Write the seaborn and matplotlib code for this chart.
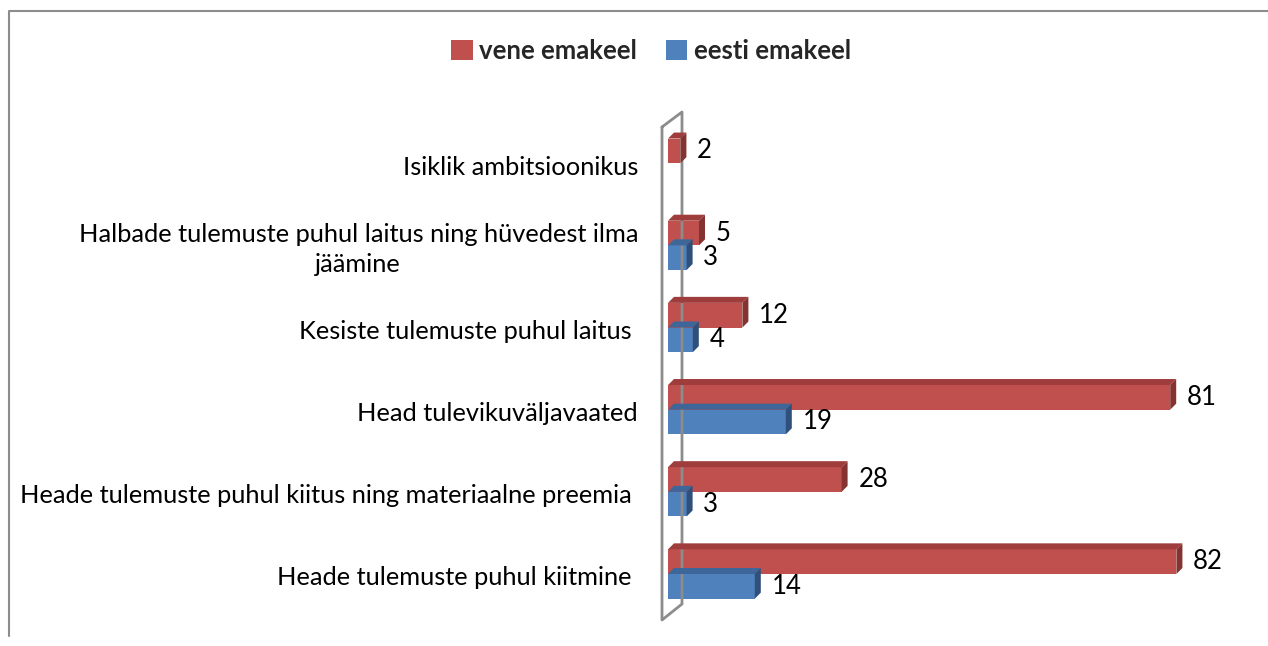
import matplotlib
matplotlib.use("Agg")
import matplotlib.pyplot as plt
import seaborn as sns
import pandas as pd
import numpy as np
from matplotlib.patches import Polygon, Patch
from matplotlib.lines import Line2D
from matplotlib.transforms import IdentityTransform, blended_transform_factory, offset_copy

# andmed
categories = [
    "Isiklik ambitsioonikus",
    "Halbade tulemuste puhul laitus ning hüvedest ilma\njäämine",
    "Kesiste tulemuste puhul laitus ",
    "Head tulevikuväljavaated",
    "Heade tulemuste puhul kiitus ning materiaalne preemia ",
    "Heade tulemuste puhul kiitmine ",
]
vene = [2, 5, 12, 81, 28, 82]
eesti = [np.nan, 3, 4, 19, 3, 14]
series = ["vene emakeel", "eesti emakeel"]

front = {"vene emakeel": "#C0504D", "eesti emakeel": "#4F81BD"}
top = {"vene emakeel": "#9E3D3B", "eesti emakeel": "#3E6699"}
side = {"vene emakeel": "#843331", "eesti emakeel": "#2F507A"}

df = pd.DataFrame({
    "kategooria": categories * 2,
    "grupp": [series[0]] * len(categories) + [series[1]] * len(categories),
    "väärtus": vene + eesti,
}).dropna()

sns.set_theme(style="white")
plt.rcParams["font.family"] = ["Lato", "DejaVu Sans"]

W, H = 1268, 646
fig = plt.figure(figsize=(W / 100, H / 100), dpi=100)


def px(x, y):
    return x / W, 1 - y / H


ax = fig.add_axes([668 / W, 1 - 620 / H, (1240 - 668) / W, 525 / H])
sns.barplot(data=df, y="kategooria", x="väärtus", hue="grupp", order=categories,
            hue_order=series, palette=front, width=0.6, orient="h", saturation=1,
            errorbar=None, legend=False, linewidth=0, ax=ax)
ax.set_xlim(0, 572 / 6.2)
ax.set_ylim(5.56, -0.83)
for s in ax.spines.values():
    s.set_visible(False)
ax.set_xticks([])
ax.set_xlabel("")
ax.set_ylabel("")
ax.tick_params(axis="y", length=0, labelleft=False)

# kategooriate nimed
lab_tr = offset_copy(blended_transform_factory(ax.transAxes, ax.transData),
                     fig=fig, x=-30, y=-4, units="dots")
for i, c in enumerate(categories):
    ax.text(0, i, c, transform=lab_tr, ha="right", va="center",
            multialignment="center", linespacing=1.35, fontsize=18.3, color="black")

# 3D "sein"
wall = [px(662, 127), px(682, 112), px(682, 604), px(662, 620), px(662, 127)]
fig.add_artist(Line2D([p[0] for p in wall], [p[1] for p in wall],
                      color="#8C8C8C", lw=2, zorder=0.5, transform=fig.transFigure))

# 3D tahud
d = 6
for i, cont in enumerate(ax.containers):
    name = series[i]
    zf = 3 if i == 0 else 2
    for p in cont:
        w = p.get_width()
        if not np.isfinite(w):
            continue
        p.set_zorder(zf)
        (x0, y0), (x1, y1) = ax.transData.transform(
            [(p.get_x(), p.get_y()), (p.get_x() + w, p.get_y() + p.get_height())])
        T, B = max(y0, y1), min(y0, y1)
        tp = Polygon([(x0, T), (x1, T), (x1 + d, T + d), (x0 + d, T + d)], closed=True,
                     facecolor=top[name], edgecolor="none", transform=IdentityTransform(),
                     zorder=zf - 0.5, clip_on=False)
        sp = Polygon([(x1, B), (x1, T), (x1 + d, T + d), (x1 + d, B + d)], closed=True,
                     facecolor=side[name], edgecolor="none", transform=IdentityTransform(),
                     zorder=zf - 0.5, clip_on=False)
        fig.add_artist(tp)
        fig.add_artist(sp)
    ax.bar_label(cont, padding=12, fontsize=18.5, color="black")

# legend
handles = [Patch(facecolor=front[s], edgecolor="none") for s in series]
fig.legend(handles, series, loc="center", bbox_to_anchor=px(651, 51), ncol=2,
           frameon=False, prop={"weight": "bold", "size": 18.5}, handlelength=0.85,
           handleheight=0.85, handletextpad=0.25, columnspacing=1.1)

# raam
fig.add_artist(Line2D([px(9, 0)[0], px(9, 0)[0], 1], [px(0, 636)[1], px(0, 11)[1], px(0, 11)[1]],
                      color="#8C8C8C", lw=1.5, transform=fig.transFigure))

fig.savefig("out.png", dpi=100)
